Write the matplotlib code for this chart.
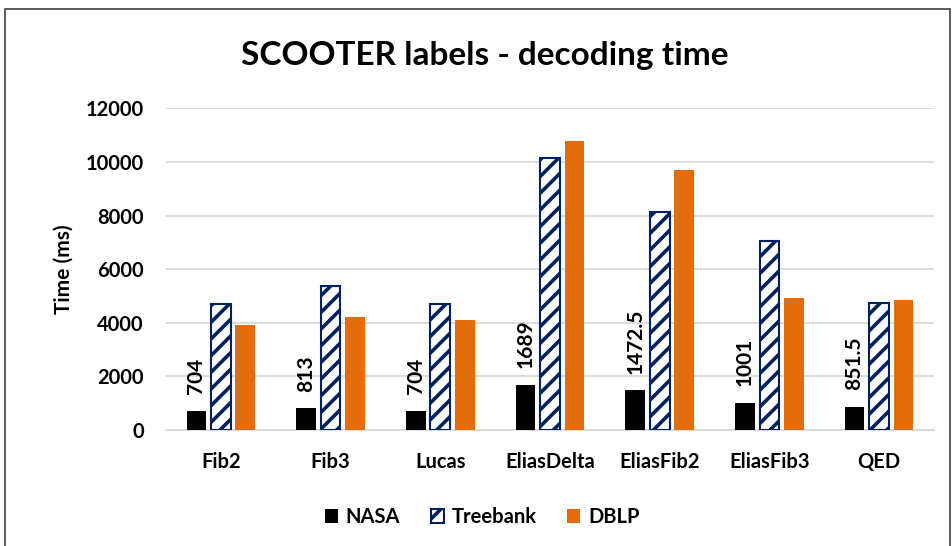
import matplotlib
matplotlib.use('Agg')
import matplotlib.pyplot as plt
from matplotlib.patches import Rectangle
import numpy as np

plt.rcParams['font.family'] = ['Lato', 'DejaVu Sans']
plt.rcParams['hatch.linewidth'] = 2.6
plt.rcParams['hatch.color'] = '#002060'

categories = ['Fib2', 'Fib3', 'Lucas', 'EliasDelta', 'EliasFib2', 'EliasFib3', 'QED']
nasa = [704, 813, 704, 1689, 1472.5, 1001, 851.5]
treebank = [4700, 5380, 4700, 10160, 8130, 7040, 4720]
dblp = [3920, 4230, 4100, 10780, 9700, 4920, 4830]
nasa_labels = ['704', '813', '704', '1689', '1472.5', '1001', '851.5']

fig = plt.figure(figsize=(9.53, 5.46), dpi=100)
ax = fig.add_axes([0.1742, 0.2125, 0.8058, 0.5892])

x = np.arange(len(categories))
w = 0.18
off = 0.223
ax.bar(x - off, nasa, w, color='black', label='NASA', zorder=3)
ax.bar(x, treebank, w, color='white', edgecolor='#002060', hatch='//',
       linewidth=1.5, label='Treebank', zorder=3)
ax.bar(x + off, dblp, w, color='#E46C0A', label='DBLP', zorder=3)

for xi, v, lab in zip(x, nasa, nasa_labels):
    ax.annotate(lab, (xi - off, v), xytext=(0, 12), textcoords='offset points',
                rotation=90, ha='center', va='bottom',
                fontsize=15, fontweight='bold', color='black')

ax.set_xlim(-0.5, len(categories) - 0.5)
ax.set_ylim(0, 12000)
ax.set_yticks(range(0, 12001, 2000))
ax.set_xticks(x)
ax.set_xticklabels(categories, fontsize=14.5, fontweight='bold')
for t in ax.get_yticklabels():
    t.set_fontsize(14.5)
    t.set_fontweight('bold')
ax.tick_params(length=0)
ax.tick_params(axis='x', pad=16)
ax.tick_params(axis='y', pad=16)
ax.grid(axis='y', color='#D9D9D9', linewidth=1.3, zorder=0)
for s in ['top', 'right', 'left']:
    ax.spines[s].set_visible(False)
ax.spines['bottom'].set_color('#D9D9D9')
ax.spines['bottom'].set_linewidth(1.3)
ax.set_ylabel('Time (ms)', fontsize=15, fontweight='bold', labelpad=9)

fig.text(0.509, 0.899, 'SCOOTER labels - decoding time', ha='center', va='center',
         fontsize=24, fontweight='bold')

fig.legend(loc='center', bbox_to_anchor=(0.506, 0.053), ncol=3, frameon=False,
           prop={'size': 14.5, 'weight': 'bold'}, handlelength=0.65, handleheight=0.65,
           handletextpad=0.4, columnspacing=1.5)

fig.patches.append(Rectangle((5 / 953, -0.05), 945 / 953, 1.05 - 9 / 546,
                             transform=fig.transFigure, fill=False,
                             edgecolor='#404040', linewidth=1.2))

fig.savefig('out.png', dpi=100)
